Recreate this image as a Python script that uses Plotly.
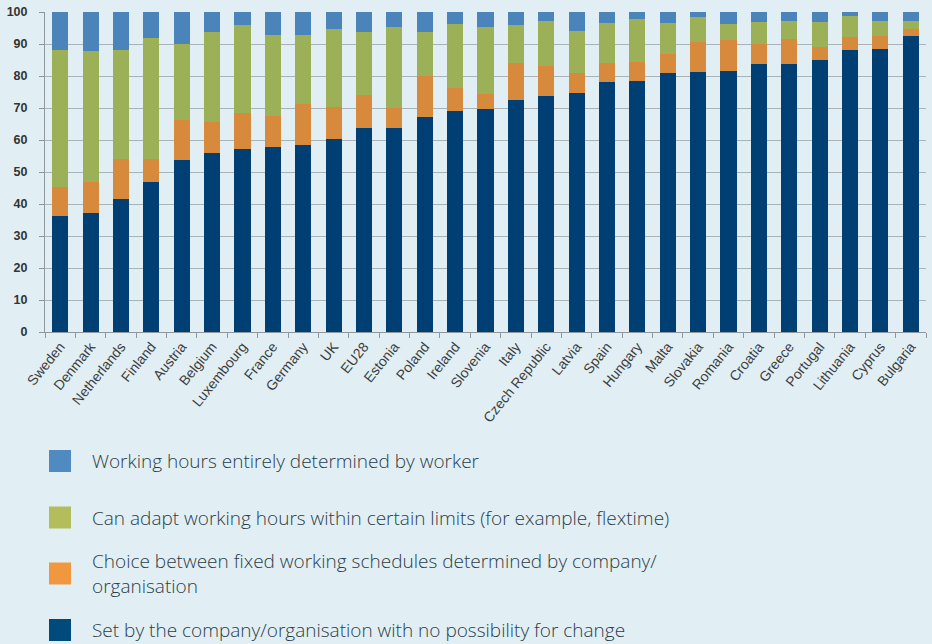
import plotly.graph_objects as go

# Countries, ordered by share of fixed schedules
countries = ["Sweden", "Denmark", "Netherlands", "Finland", "Austria", "Belgium",
             "Luxembourg", "France", "Germany", "UK", "EU28", "Estonia", "Poland",
             "Ireland", "Slovenia", "Italy", "Czech Republic", "Latvia", "Spain",
             "Hungary", "Malta", "Slovakia", "Romania", "Croatia", "Greece",
             "Portugal", "Lithuania", "Cyprus", "Bulgaria"]

# Share of workers (%) per arrangement
set_by_company = [36.3, 37.1, 41.5, 46.9, 53.7, 55.8, 57.3, 57.9, 58.4, 60.2,
                  63.9, 63.8, 67.3, 69.1, 69.8, 72.6, 73.6, 74.7, 78.0, 78.4,
                  80.9, 81.3, 81.7, 83.7, 83.8, 85.0, 88.1, 88.4, 92.5]
choice_fixed = [8.9, 9.8, 12.5, 7.1, 12.6, 9.8, 11.1, 9.5, 12.9, 10.1,
                10.3, 6.3, 12.8, 7.3, 4.7, 11.4, 9.4, 6.3, 6.2, 6.0,
                6.0, 9.3, 9.6, 6.2, 7.9, 4.1, 4.0, 4.1, 2.2]
adapt_within_limits = [42.8, 41.0, 34.0, 37.9, 23.7, 28.2, 27.6, 25.3, 21.6, 24.4,
                       19.7, 25.3, 13.6, 19.9, 20.7, 11.9, 14.2, 13.1, 12.3, 13.5,
                       9.7, 7.7, 5.0, 6.9, 5.5, 7.8, 6.5, 4.7, 2.6]
worker_determined = [round(100 - a - b - c, 1) for a, b, c in
                     zip(set_by_company, choice_fixed, adapt_within_limits)]

y_ticks = list(range(0, 101, 10))

series = [
    ("Set by the company/organisation with no possibility for change", set_by_company, "#003f73", "#004a7c"),
    ("Choice between fixed working schedules determined by company/<br>organisation", choice_fixed, "#d88a3c", "#f0973f"),
    ("Can adapt working hours within certain limits (for example, flextime)", adapt_within_limits, "#9cb157", "#b3bd5b"),
    ("Working hours entirely determined by worker", worker_determined, "#4a84ba", "#4f8ac0"),
]

fig = go.Figure()
for name, vals, bar_col, _ in series:
    fig.add_trace(go.Bar(x=countries, y=vals, name=name.replace("<br>", ""),
                         marker=dict(color=bar_col, line=dict(width=0)),
                         showlegend=False))

BG = "#e1eff5"
L, R, T, B = 45, 6, 12, 312
W, H = 932, 644
pw, ph = W - L - R, H - T - B


def px_x(p):
    return (p - L) / pw


def px_y(p):
    return (H - B - p) / ph


# Legend drawn below the plot, top entry first
legend_rows = [
    (series[3], 461.0),
    (series[2], 517.5),
    (series[1], 573.5),
    (series[0], 630.0),
]
shapes = []
annotations = []
for (name, _, _, leg_col), cy in legend_rows:
    shapes.append(dict(type="rect", xref="paper", yref="paper",
                       x0=px_x(49), x1=px_x(71), y0=px_y(cy - 11), y1=px_y(cy + 11),
                       fillcolor=leg_col, line=dict(width=0)))
    annotations.append(dict(xref="paper", yref="paper", x=px_x(90), y=px_y(cy),
                            xanchor="left", yanchor="middle", align="left",
                            text=name, showarrow=False,
                            font=dict(family="Open Sans", size=19, color="#2b3d47",
                                      weight=300)))

fig.update_layout(
    barmode="stack",
    bargap=0.47,
    width=W, height=H,
    margin=dict(l=L, r=R, t=T, b=B),
    paper_bgcolor=BG,
    plot_bgcolor=BG,
    showlegend=False,
    shapes=shapes,
    annotations=annotations,
)
fig.update_yaxes(range=[0, 100], tickvals=y_ticks, showgrid=True,
                 gridcolor="#aab3b8", gridwidth=1,
                 showline=True, linecolor="#8e979c", linewidth=1,
                 ticks="outside", ticklen=5, tickcolor="#8e979c",
                 ticklabelstandoff=9,
                 tickfont=dict(family="Liberation Sans", size=12.5, color="#333333", weight="bold"),
                 zeroline=False, fixedrange=True)
fig.update_xaxes(showline=True, linecolor="#8e979c", linewidth=1,
                 ticks="outside", ticklen=5, tickcolor="#8e979c",
                 tickson="boundaries", tickangle=-51,
                 tickfont=dict(family="Liberation Sans", size=14, color="#3d3d3d"),
                 showgrid=False, fixedrange=True)

fig.write_html("out.html")
